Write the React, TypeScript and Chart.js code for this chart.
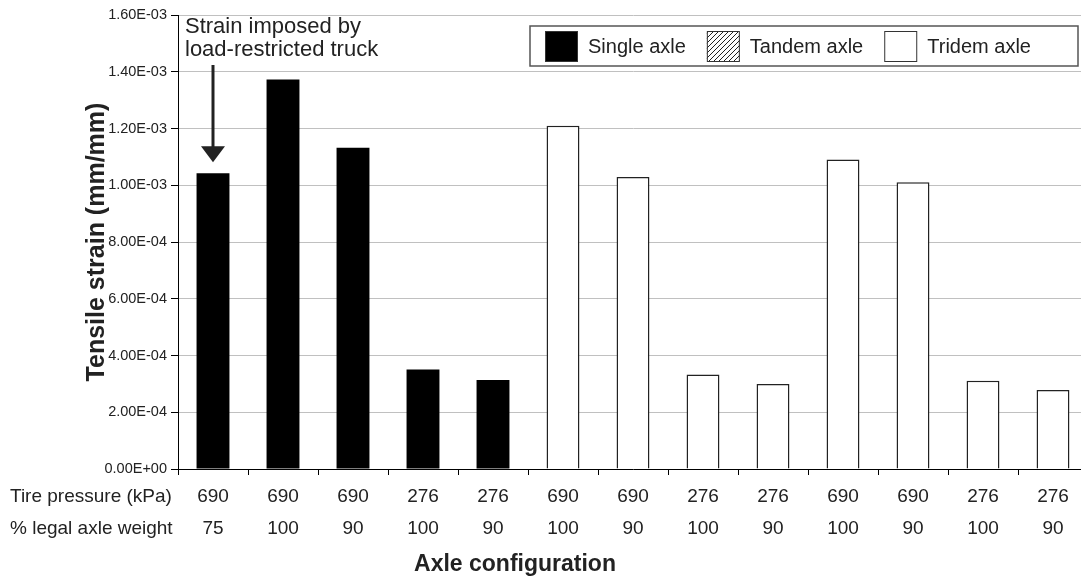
import React, { useEffect, useRef } from 'react';
import { Chart, registerables } from 'chart.js';

Chart.register(...registerables);

const FONT = '"Liberation Sans", Arial, Helvetica, sans-serif';

// ---- data ----
const tirePressure = ['690', '690', '690', '276', '276', '690', '690', '276', '276', '690', '690', '276', '276'];
const legalAxleWeight = ['75', '100', '90', '100', '90', '100', '90', '100', '90', '100', '90', '100', '90'];
const singleAxle = [1.042e-3, 1.373e-3, 1.132e-3, 0.351e-3, 0.314e-3, null, null, null, null, null, null, null, null];
const tandemAxle: (number | null)[] = [];
const tridemAxle = [null, null, null, null, null, 1.21e-3, 1.029e-3, 0.333e-3, 0.3e-3, 1.091e-3, 1.011e-3, 0.311e-3, 0.278e-3];
const yMin = 0;
const yMax = 1.6e-3;
const yStep = 2e-4;
const rowHeaders = ['Tire pressure (kPa)', '% legal axle weight'];
const xTitle = 'Axle configuration';
const yTitle = 'Tensile strain (mm/mm)';
const annotationLines = ['Strain imposed by', 'load-restricted truck'];

function sci(v: number): string {
  const s = Math.abs(v) < 1e-12 ? (0).toExponential(2) : v.toExponential(2);
  const [m, e] = s.split('e');
  const sign = e[0] === '-' ? '-' : '+';
  const digits = e.replace(/[+-]/, '').padStart(2, '0');
  return `${m}E${sign}${digits}`;
}

function makeHatch(): CanvasPattern | string {
  const c = document.createElement('canvas');
  c.width = 5;
  c.height = 5;
  const g = c.getContext('2d');
  if (!g) return '#fff';
  g.fillStyle = '#fff';
  g.fillRect(0, 0, 5, 5);
  g.strokeStyle = '#222';
  g.lineWidth = 1;
  g.beginPath();
  g.moveTo(0, 5);
  g.lineTo(5, 0);
  g.moveTo(-1, 1);
  g.lineTo(1, -1);
  g.moveTo(4, 6);
  g.lineTo(6, 4);
  g.stroke();
  const p = g.createPattern(c, 'repeat');
  return p || '#fff';
}

const decorPlugin = {
  id: 'decor',
  afterDraw(chart: any) {
    const ctx: CanvasRenderingContext2D = chart.ctx;
    const xs = chart.scales.x;
    const ys = chart.scales.y;
    const area = chart.chartArea;

    // y-axis title
    ctx.save();
    ctx.fillStyle = '#222';
    ctx.font = `bold 25px ${FONT}`;
    ctx.translate(97, (area.top + area.bottom) / 2);
    ctx.rotate(-Math.PI / 2);
    ctx.textAlign = 'center';
    ctx.textBaseline = 'middle';
    ctx.fillText(yTitle, 0, 0);
    ctx.restore();

    // row headers
    ctx.save();
    ctx.fillStyle = '#222';
    ctx.font = `19px ${FONT}`;
    ctx.textAlign = 'left';
    ctx.textBaseline = 'middle';
    ctx.fillText(rowHeaders[0], 10, 497);
    ctx.fillText(rowHeaders[1], 10, 529);
    ctx.restore();

    // x-axis title
    ctx.save();
    ctx.fillStyle = '#222';
    ctx.font = `bold 23px ${FONT}`;
    ctx.textAlign = 'center';
    ctx.textBaseline = 'middle';
    ctx.fillText(xTitle, 515, 565);
    ctx.restore();

    // annotation + arrow
    ctx.save();
    ctx.fillStyle = '#222';
    ctx.font = `22px ${FONT}`;
    ctx.textAlign = 'left';
    ctx.textBaseline = 'middle';
    ctx.fillText(annotationLines[0], 185, 27);
    ctx.fillText(annotationLines[1], 185, 50);
    const ax = xs.getPixelForValue(0);
    const tipY = ys.getPixelForValue(singleAxle[0] as number) - 11;
    ctx.strokeStyle = '#222';
    ctx.lineWidth = 3;
    ctx.beginPath();
    ctx.moveTo(ax, 65);
    ctx.lineTo(ax, tipY - 12);
    ctx.stroke();
    ctx.beginPath();
    ctx.moveTo(ax - 12, tipY - 16);
    ctx.lineTo(ax + 12, tipY - 16);
    ctx.lineTo(ax, tipY);
    ctx.closePath();
    ctx.fill();
    ctx.restore();

    // legend
    ctx.save();
    const bx = 530, by = 26, bw = 548, bh = 40;
    ctx.fillStyle = '#fff';
    ctx.fillRect(bx, by, bw, bh);
    ctx.strokeStyle = '#555';
    ctx.lineWidth = 1.5;
    ctx.strokeRect(bx, by, bw, bh);
    ctx.font = `20px ${FONT}`;
    ctx.textBaseline = 'middle';
    ctx.textAlign = 'left';
    let cx = bx + 15;
    const cy = by + bh / 2;
    chart.data.datasets.forEach((ds: any) => {
      ctx.fillStyle = ds.backgroundColor;
      ctx.fillRect(cx, cy - 15, 33, 31);
      ctx.strokeStyle = '#333';
      ctx.lineWidth = 1;
      ctx.strokeRect(cx + 0.5, cy - 14.5, 32, 30);
      ctx.fillStyle = '#222';
      ctx.fillText(ds.label, cx + 43, cy + 1);
      cx += 43 + ctx.measureText(ds.label).width + 21;
    });
    ctx.restore();
  },
};

export default function App() {
  const ref = useRef<HTMLCanvasElement | null>(null);

  useEffect(() => {
    const canvas = ref.current;
    if (!canvas) return;
    const labels = tirePressure.map((p, i) => [p, legalAxleWeight[i]]);
    const chart = new Chart(canvas, {
      type: 'bar',
      data: {
        labels,
        datasets: [
          {
            label: 'Single axle',
            data: singleAxle,
            backgroundColor: '#000',
            borderColor: '#000',
            borderWidth: 0,
          },
          {
            label: 'Tandem axle',
            data: tandemAxle,
            backgroundColor: makeHatch() as any,
            borderColor: '#222',
            borderWidth: 1.5,
          },
          {
            label: 'Tridem axle',
            data: tridemAxle,
            backgroundColor: '#fff',
            borderColor: '#222',
            borderWidth: 1.5,
          },
        ],
      },
      options: {
        responsive: false,
        animation: false,
        layout: { padding: { top: 15, right: 12, left: 0, bottom: 0 } },
        datasets: {
          bar: { barPercentage: 0.47, categoryPercentage: 1 },
        },
        plugins: {
          legend: { display: false },
          tooltip: { enabled: false },
          title: { display: false },
        },
        scales: {
          x: {
            stacked: true,
            offset: true,
            grid: {
              offset: true,
              drawOnChartArea: false,
              drawTicks: true,
              tickLength: 6,
              color: '#000',
              tickColor: '#000',
            },
            border: { display: true, color: '#000', width: 1 },
            ticks: {
              color: '#222',
              font: { family: FONT, size: 19, lineHeight: 32 / 19 },
              padding: 6,
              maxRotation: 0,
              autoSkip: false,
            },
            afterFit(scale: any) {
              scale.height = 111;
            },
          },
          y: {
            stacked: true,
            min: yMin,
            max: yMax,
            grid: {
              color: '#c0c0c0',
              tickColor: '#000',
              tickLength: 7,
              lineWidth: 1,
            },
            border: { display: true, color: '#000', width: 1 },
            ticks: {
              stepSize: yStep,
              color: '#222',
              font: { family: FONT, size: 14.5 },
              padding: 4,
              callback: (v: any) => sci(Number(v)),
            },
            afterFit(scale: any) {
              scale.width = 178;
            },
          },
        },
      },
      plugins: [decorPlugin],
    });
    return () => chart.destroy();
  }, []);

  return (
    <div
      style={{
        position: 'fixed',
        left: 0,
        top: 0,
        width: 1081,
        height: 580,
        overflow: 'hidden',
        background: '#fff',
      }}
    >
      <canvas ref={ref} width={1100} height={580} style={{ display: 'block' }} />
    </div>
  );
}
